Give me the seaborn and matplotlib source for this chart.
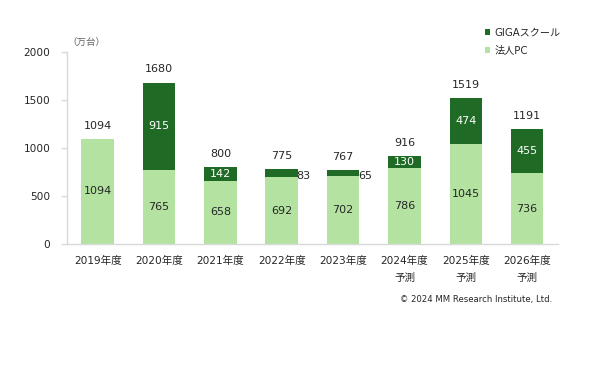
import matplotlib
matplotlib.use("Agg")
import matplotlib.pyplot as plt
import seaborn as sns
import pandas as pd
from matplotlib.patches import Patch

years = ["2019年度", "2020年度", "2021年度", "2022年度", "2023年度",
         "2024年度\n予測", "2025年度\n予測", "2026年度\n予測"]
corp_pc = [1094, 765, 658, 692, 702, 786, 1045, 736]
giga = [0, 915, 142, 83, 65, 130, 474, 455]
totals = [c + g for c, g in zip(corp_pc, giga)]

sns.set_theme(style="white")
plt.rcParams['font.family'] = ['DejaVu Sans', 'Noto Sans CJK JP']

DARK = "#1f6b26"
LIGHT = "#b3e2a1"
TEXT = "#262626"
FS = 8.0
TFS = 7.6

df = pd.DataFrame({"year": years, "corp": corp_pc, "giga": giga, "total": totals})

fig = plt.figure(figsize=(6.0, 3.81), dpi=100)
ax = fig.add_axes([0.1117, 0.360, 0.818, 0.504])

sns.barplot(data=df, x="year", y="total", color=DARK, width=0.53,
            saturation=1, ax=ax, order=years, linewidth=0, edgecolor="none")
sns.barplot(data=df, x="year", y="corp", color=LIGHT, width=0.53,
            saturation=1, ax=ax, order=years, linewidth=0, edgecolor="none")

ax.set_ylim(0, 2000)
ax.set_xlim(-0.5, len(years) - 0.5)
ax.set_yticks([0, 500, 1000, 1500, 2000])
ax.set_xlabel("")
ax.set_ylabel("")
for s in ["top", "right"]:
    ax.spines[s].set_visible(False)
for s in ["left", "bottom"]:
    ax.spines[s].set_color("#d9d9d9")
    ax.spines[s].set_linewidth(1.0)
ax.tick_params(axis="y", labelsize=TFS, colors="#d9d9d9", labelcolor=TEXT,
               length=4, width=1, pad=8, left=True)
ax.tick_params(axis="x", labelsize=TFS, labelcolor=TEXT, length=0, pad=8.5)
for lbl in ax.get_xticklabels():
    lbl.set_linespacing(1.9)

for i, (c, g, t) in enumerate(zip(corp_pc, giga, totals)):
    ax.annotate(f"{t}", (i, t), xytext=(0, 9.5), textcoords="offset points",
                ha="center", va="center", fontsize=FS, color=TEXT)
    ax.text(i, c / 2, f"{c}", ha="center", va="center", fontsize=FS, color=TEXT)
    if g > 0:
        if g < 100:
            ax.text(i + 0.24, c + g / 2 - 25, f"{g}", ha="left", va="center",
                    fontsize=FS, color=TEXT)
        else:
            ax.text(i, c + g / 2, f"{g}", ha="center", va="center",
                    fontsize=FS, color="white")

ax.text(-0.5, 2050, "（万台）", ha="left", va="bottom", fontsize=6.8,
        color="#666666", family=['Noto Sans CJK JP', 'DejaVu Sans'])

handles = [Patch(facecolor=DARK, edgecolor="none", label="GIGAスクール"),
           Patch(facecolor=LIGHT, edgecolor="none", label="法人PC")]
fig.legend(handles=handles, loc="upper left", bbox_to_anchor=(0.808, 0.927),
           frameon=False, fontsize=7.3, handlelength=0.55, handleheight=0.55,
           handletextpad=0.4, labelspacing=0.75, borderaxespad=0, borderpad=0)

fig.text(0.921, 0.215, "© 2024 MM Research Institute, Ltd.", ha="right", va="center",
         fontsize=6.1, color=TEXT)

fig.savefig("out.png", dpi=100)
